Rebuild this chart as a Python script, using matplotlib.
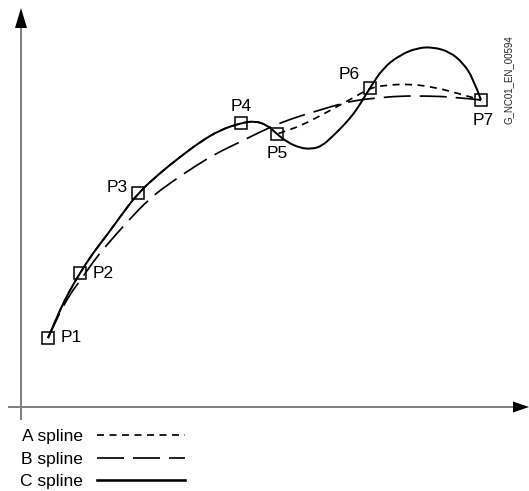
import numpy as np
import matplotlib.pyplot as plt
from matplotlib.path import Path
from matplotlib.patches import PathPatch
from matplotlib.lines import Line2D

plt.rcParams['font.family'] = ['Liberation Sans', 'DejaVu Sans']

# control points P1..P7 (drawing units, origin at the axis cross)
names = ['P1', 'P2', 'P3', 'P4', 'P5', 'P6', 'P7']
p_x = [27, 59, 117, 220, 256, 349, 460]
p_y = [69, 134, 214, 284, 273, 319, 307]

# curves
c_x = [27, 31, 39, 49, 59, 72, 86, 99, 117, 139, 159, 179, 199, 220, 234, 246, 256,
       266, 279, 291, 301, 312, 324, 334, 341, 349, 362, 379, 396, 412, 429, 442, 452, 460]
c_y = [69, 78, 97, 117, 134, 154, 172, 190, 214, 234, 250, 265, 277, 284, 286, 282, 273,
       265, 259, 258, 261, 271, 283, 295, 306, 319, 339, 352, 359, 360, 355, 344, 329, 307]

# A spline runs with the C spline up to P5
a_x = c_x[:17] + [262, 279, 299, 319, 339, 349, 366, 389, 412, 436, 460]
a_y = c_y[:17] + [275, 281, 291, 302, 313, 319, 322, 323, 320, 314, 307]

b_x = [27, 36, 49, 59, 72, 84, 106, 129, 152, 176, 196, 219, 239, 259, 279, 299, 319,
       337, 356, 379, 406, 432, 460]
b_y = [69, 89, 113, 126, 145, 160, 185, 209, 226, 242, 254, 265, 275, 284, 291, 297, 303,
       307, 309, 311, 311, 310, 307]

series = ['A spline', 'B spline', 'C spline']

# label offsets (pixels) and alignment for P1..P7
lab_off = [(13, 0), (13, -1), (-10, 6), (0, 17), (0, -19), (-21, 14), (2, -20)]
lab_ha = ['left', 'left', 'right', 'center', 'center', 'center', 'center']

pt = 72 / 100
fs = 12.5


def smooth(x, y):
    pts = np.column_stack([x, y]).astype(float)
    verts = [pts[0]]
    codes = [Path.MOVETO]
    n = len(pts)
    for i in range(1, n - 1):
        end = (pts[i] + pts[i + 1]) / 2 if i < n - 2 else pts[-1]
        verts += [pts[i], end]
        codes += [Path.CURVE3, Path.CURVE3]
    return Path(verts, codes)


fig = plt.figure(figsize=(5.29, 4.91), dpi=100)
ax = fig.add_axes([0, 0, 1, 1])
ax.set_xlim(-21, 508)
ax.set_ylim(-84, 407)
ax.axis('off')

# axes with arrows
gray = '#808080'
ax.plot([-13, 492], [0, 0], color=gray, lw=2 * pt, solid_capstyle='butt')
ax.plot([0, 0], [-13, 379], color=gray, lw=2 * pt, solid_capstyle='butt')
ax.fill([492, 492, 508], [-5.5, 5.5, 0], color='k', lw=0)
ax.fill([-6, 6, 0], [379, 379, 399], color='k', lw=0)

lw_d = 1.7 * pt
lw_c = 2.0 * pt
sty_a = (0, (7 * pt / lw_d, 5.5 * pt / lw_d))
sty_b = (0, (27 * pt / lw_d, 9 * pt / lw_d))

ax.add_patch(PathPatch(smooth(b_x, b_y), fill=False, lw=lw_d, ls=sty_b, ec='k'))
ax.add_patch(PathPatch(smooth(a_x, a_y), fill=False, lw=lw_d, ls=sty_a, ec='k'))
ax.add_patch(PathPatch(smooth(c_x, c_y), fill=False, lw=lw_c, ec='k'))

ax.plot(p_x, p_y, 's', ms=8, mfc='none', mec='k', mew=1.1, zorder=5)
for i, nm in enumerate(names):
    ax.annotate(nm, (p_x[i], p_y[i]), xytext=lab_off[i], textcoords='offset pixels',
                ha=lab_ha[i], va='center', fontsize=fs)

fig.text(509 / 529, 1 - 80 / 491, 'G_NC01_EN_00594', rotation=90, fontsize=7,
         ha='center', va='center', color='#222222')

handles = [Line2D([], [], color='k', lw=lw_d, ls=sty_a),
           Line2D([], [], color='k', lw=lw_d, ls=sty_b),
           Line2D([], [], color='k', lw=2.6 * pt)]
fig.legend(handles, series, loc='upper left', bbox_to_anchor=(20 / 529, 1 - 429 / 491),
           frameon=False, markerfirst=False, fontsize=fs, handlelength=88 * pt / fs,
           handletextpad=14 * pt / fs, labelspacing=0.42, borderpad=0, borderaxespad=0)

fig.savefig('out.png')
